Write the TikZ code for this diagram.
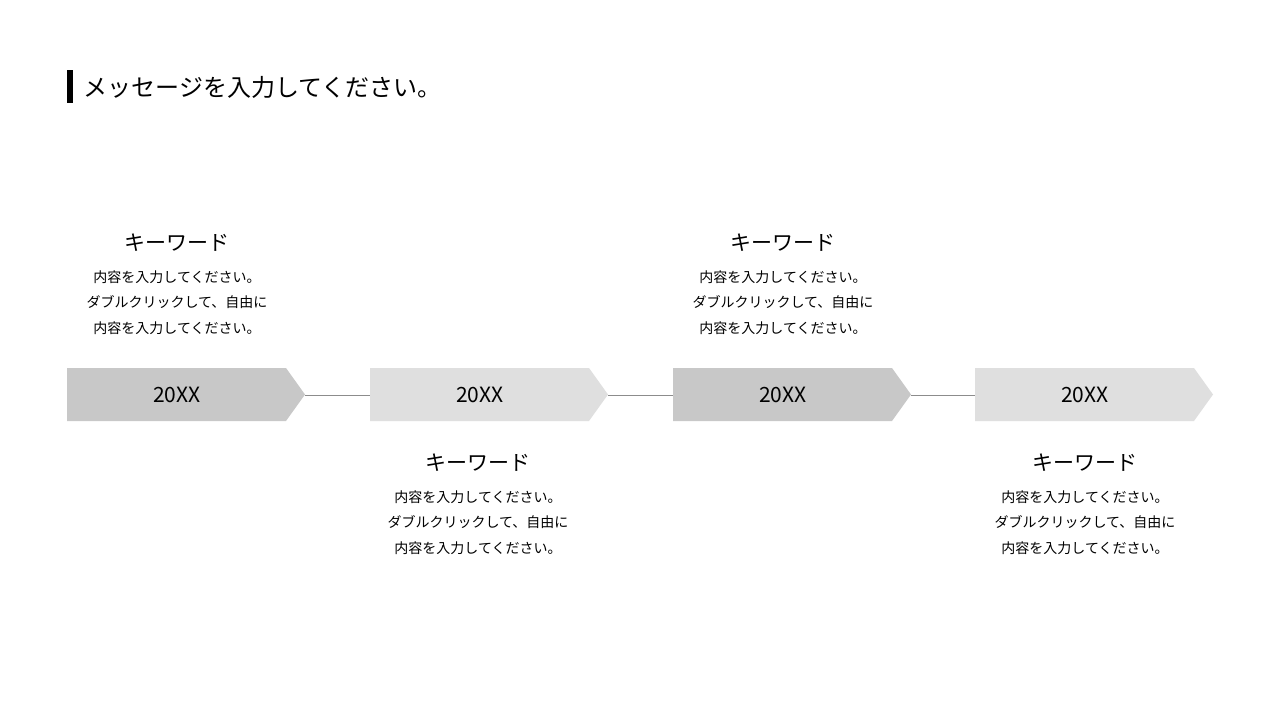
\documentclass[tikz,border=0pt]{standalone}
\usepackage{fontspec}
\newfontfamily\cjk{Noto Sans CJK JP}
\begin{document}
\begin{tikzpicture}[x=1pt,y=-1pt,
  yr/.style={font=\cjk\fontsize{21}{21}\selectfont},
  kw/.style={font=\cjk\fontsize{21}{21}\selectfont},
  bd/.style={font=\cjk\fontsize{14}{25.5}\selectfont,align=center},
  conn/.style={draw=gray!90,line width=1.3pt}]
\useasboundingbox[fill=white] (0,0) rectangle (1280,720);
\fill[black] (67,70) rectangle (73,103);
\node[anchor=west,font=\cjk\fontsize{24}{24}\selectfont] (title) at (80,87) {メッセージを入力してください。};
\foreach \i/\x/\c in {1/67/C8C8C8,2/370/DFDFDF,3/673/C8C8C8,4/975/DFDFDF}{
  \definecolor{c\i}{HTML}{\c}
  \fill[c\i] (\x,368) -- (\x+219,368) -- (\x+238,394.5) -- (\x+219,421) -- (\x,421) -- cycle;
  \coordinate (L\i) at (\x,395.5);
  \coordinate (R\i) at (\x+238,395.5);
  \node[yr] (y\i) at (\x+110,395) {20XX};
}
\draw[conn] (R1) -- (L2);
\draw[conn] (R2) -- (L3);
\draw[conn] (R3) -- (L4);
\foreach \i/\x/\y in {1/177/243,2/478/463,3/783/243,4/1085/463}{
  \node[kw] (k\i) at (\x,\y) {キーワード};
  \node[bd,anchor=north] (b\i) at (\x,\y+24) {内容を入力してください。\\ダブルクリックして、自由に\\内容を入力してください。};
}
\end{tikzpicture}
\end{document}
